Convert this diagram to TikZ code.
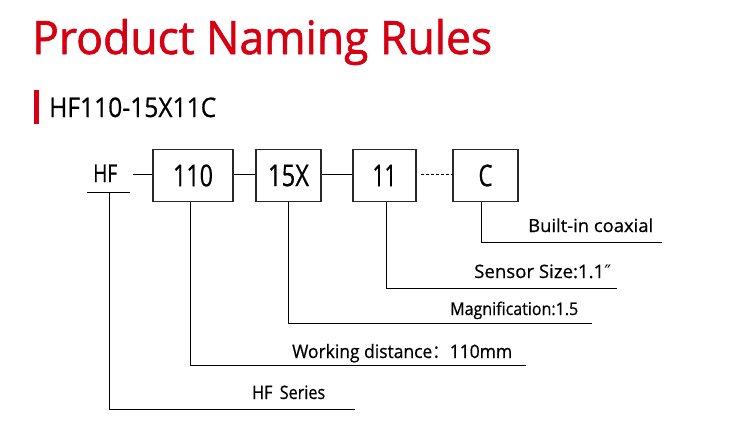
\documentclass[tikz,border=0pt]{standalone}
\usepackage{fontspec}
\setmainfont[FakeBold=0.6]{Open Sans}
\newfontfamily\titlef[FakeBold=1.4]{Open Sans}
\newfontfamily\cjkf{Noto Sans CJK SC}
\newfontfamily\djv{DejaVu Sans}
\usepackage{graphicx}
\definecolor{titlered}{RGB}{215,0,18}
\definecolor{boxline}{RGB}{40,40,40}
\newcommand{\fitw}[3]{\resizebox{#1pt}{\height}{\fontsize{#2}{#2}\selectfont #3}}
\begin{document}
\begin{tikzpicture}[x=1pt,y=-1pt,
  txt/.style={inner sep=0pt, anchor=base west},
  ln/.style={line width=1pt, black},
  namebox/.style={draw=boxline, line width=1.2pt, fill=white, inner sep=0pt, minimum height=52.5pt},
  redbar/.style={fill=titlered, draw=none}]
\useasboundingbox (0,0) rectangle (743,436);
% title
\node[txt, text=titlered] (title) at (32,54) {\fitw{460}{46}{\titlef Product Naming Rules}};
\fill[redbar] (34,90) rectangle (39,124);
\node[txt] (sub) at (49,117) {\fitw{167}{27}{HF110-15X11C}};
% row
\node[txt] (hf) at (93,182) {\fitw{24}{24.5}{HF}};
\coordinate (hfL) at (87,192);
\coordinate (hfR) at (130,192);
\coordinate (hfU) at (109,192);
\coordinate (hfE) at (133,174);
\draw[ln] (hfL) -- (hfR);
\node[namebox, minimum width=80pt] (b110) at (193,175.5) {\fitw{40}{30}{110}};
\node[namebox, minimum width=65pt] (b15) at (288.5,175.5) {\fitw{41}{30}{15X}};
\node[namebox, minimum width=63pt] (b11) at (384.5,175.5) {\fitw{24}{30}{11}};
\node[namebox, minimum width=65pt] (bC) at (485.5,175.5) {\fitw{14}{30}{C}};
\draw[ln] (hfE) -- ([yshift=1.5pt]b110.west);
\draw[ln] ([yshift=1.5pt]b110.east) -- ([yshift=1.5pt]b15.west);
\draw[ln] ([yshift=1.5pt]b15.east) -- ([yshift=1.5pt]b11.west);
\draw[line width=0.9pt, dash pattern=on 3.5pt off 1.5pt] ([xshift=4pt,yshift=1.5pt]b11.east) -- ([xshift=-1pt,yshift=1.5pt]bC.west);
% leaders
\coordinate (eC) at (662,242);
\coordinate (e11) at (617,288);
\coordinate (e15) at (592,323);
\coordinate (e110) at (526,365);
\coordinate (eHF) at (355,409);
\draw[ln] ([xshift=-4.5pt]bC.south) |- (eC);
\draw[ln] ([xshift=1.5pt]b11.south) |- (e11);
\draw[ln] (b15.south) |- (e15);
\draw[ln] ([xshift=-3pt]b110.south) |- (e110);
\draw[ln] (hfU) |- (eHF);
% labels
\node[txt] (lC) at (528,232) {\fitw{125}{18}{Built-in coaxial}};
\node[txt] (l11) at (474,278) {\fitw{137}{18.5}{Sensor Size:1.1{\djv ″}}};
\node[txt] (l15) at (450,315) {\fitw{128}{17.5}{Magnification:1.5}};
\node[txt] (l110) at (292,358) {\fitw{220}{18.5}{Working distance{\cjkf ：}110mm}};
\node[txt] (lHF) at (252,399) {\fitw{73}{18.5}{HF\hspace{0.45em}Series}};
\end{tikzpicture}
\end{document}
